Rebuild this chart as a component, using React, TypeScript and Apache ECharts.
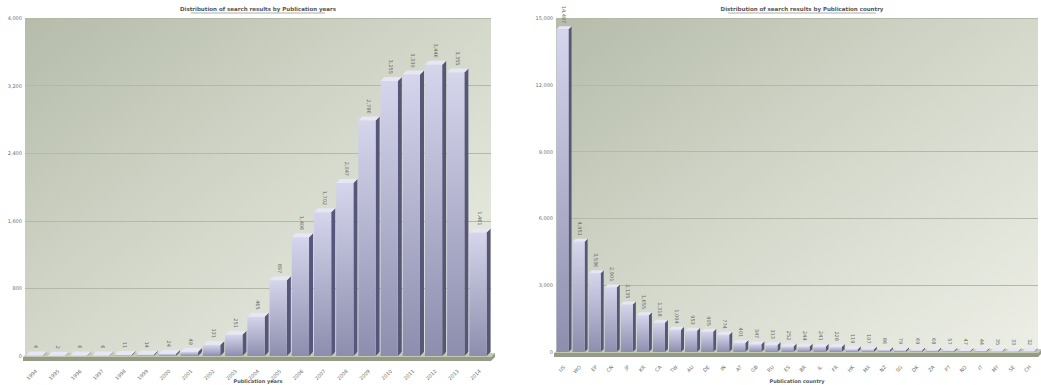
import React, { useEffect, useRef } from "react";
import * as echarts from "echarts";

// Publication years
const years = [
  "1994", "1995", "1996", "1997", "1998", "1999", "2000", "2001", "2002", "2003", "2004",
  "2005", "2006", "2007", "2008", "2009", "2010", "2011", "2012", "2013", "2014",
];
const yearCounts = [
  6, 2, 6, 6, 11, 14, 24, 49, 131, 251, 465, 897, 1406, 1702, 2047, 2786, 3255, 3330, 3446, 3355, 1461,
];
const yearAxisMax = 4000;
const yearAxisStep = 800;

// Publication countries
const countries = [
  "US", "WO", "EP", "CN", "JP", "KR", "CA", "TW", "AU", "DE", "IN", "AT", "GB", "RU", "ES",
  "BR", "IL", "FR", "HK", "MX", "NZ", "SG", "DK", "ZA", "PT", "NO", "IT", "MY", "SE", "CH",
];
const countryCounts = [
  14497, 4951, 3536, 2901, 2135, 1655, 1318, 1004, 953, 905, 774, 401, 347, 313, 252,
  244, 241, 228, 119, 107, 86, 79, 69, 68, 57, 47, 44, 35, 33, 32,
];
const countryAxisMax = 15000;
const countryAxisStep = 3000;

const titleYears = "Distribution of search results by Publication years";
const titleCountries = "Distribution of search results by Publication country";

const FONT = "DejaVu Sans";
const TEXT = "#6e6e6e";

const fmt = (v: number) => v.toLocaleString("en-US");

const plotBackground = new echarts.graphic.LinearGradient(0, 0, 1, 1, [
  { offset: 0, color: "#b5bcaa" },
  { offset: 0.5, color: "#d4d8cb" },
  { offset: 1, color: "#edefe6" },
]);

// 3D column: front face, right side, top face and a rotated value label
function column3d(depth: number, widthRatio: number) {
  return (params: any, api: any) => {
    const idx = api.value(0);
    const val = api.value(1);
    const top = api.coord([idx, val]);
    const base = api.coord([idx, 0]);
    const band = api.size([1, 0])[0];
    const w = band * widthRatio;
    const x0 = top[0] - (w + depth) / 2;
    const x1 = x0 + w;
    const yT = top[1];
    const yB = base[1];
    const h = Math.max(yB - yT, 0.01);
    return {
      type: "group",
      children: [
        {
          type: "polygon",
          shape: {
            points: [
              [x1, yT],
              [x1 + depth, yT - depth],
              [x1 + depth, yB - depth],
              [x1, yB],
            ],
          },
          style: { fill: "#55567a" },
        },
        {
          type: "rect",
          shape: { x: x0, y: yT, width: w, height: h },
          style: {
            fill: new echarts.graphic.LinearGradient(0, 0, 0, 1, [
              { offset: 0, color: "#d5d5ec" },
              { offset: 1, color: "#8d8eae" },
            ]),
          },
        },
        {
          type: "polygon",
          shape: {
            points: [
              [x0, yT],
              [x1, yT],
              [x1 + depth, yT - depth],
              [x0 + depth, yT - depth],
            ],
          },
          style: { fill: "#e6e6f4" },
        },
        {
          type: "text",
          x: x0 + w / 2 + depth / 2,
          y: yT - depth - 3,
          rotation: -Math.PI / 2,
          style: {
            text: fmt(val),
            fill: "#666",
            font: `5px "${FONT}"`,
            align: "right",
            verticalAlign: "middle",
          },
        },
      ],
    };
  };
}

// Floor slab under the columns
function floor3d(depth: number) {
  return (params: any) => {
    const cs = params.coordSys;
    const yB = cs.y + cs.height;
    const xL = cs.x - 2;
    const xR = cs.x + cs.width;
    return {
      type: "group",
      children: [
        {
          type: "polygon",
          shape: {
            points: [
              [xL, yB + 1],
              [xR, yB + 1],
              [xR + depth, yB - depth + 1],
              [xL + depth, yB - depth + 1],
            ],
          },
          style: { fill: "#c3c9b5" },
        },
        {
          type: "polygon",
          shape: {
            points: [
              [xL, yB + 1],
              [xR, yB + 1],
              [xR + depth, yB - depth + 1],
              [xR + depth, yB - depth + 5],
              [xR, yB + 5],
              [xL, yB + 5],
            ],
          },
          style: { fill: "#959c86" },
        },
      ],
    };
  };
}

const valueAxis = (gridIndex: number, max: number, step: number) => ({
  type: "value",
  gridIndex,
  min: 0,
  max,
  interval: step,
  axisLine: { show: false },
  axisTick: { show: false },
  axisLabel: {
    fontSize: 5,
    fontFamily: FONT,
    color: TEXT,
    margin: 3,
    formatter: (v: number) => fmt(v),
  },
  splitLine: { lineStyle: { color: "#b3b9a6", width: 1 } },
});

const categoryAxis = (gridIndex: number, data: string[], name: string, nameGap: number) => ({
  type: "category",
  gridIndex,
  data,
  boundaryGap: true,
  axisLine: { show: false },
  axisTick: { show: false },
  axisLabel: {
    show: true,
    fontSize: 5,
    fontFamily: FONT,
    color: TEXT,
    rotate: 45,
    margin: 14,
    interval: 0,
    hideOverlap: false,
  },
  name,
  nameLocation: "middle",
  nameGap,
  nameMoveOverlap: false,
  nameTextStyle: { fontSize: 5, fontFamily: FONT, fontWeight: "bold", color: "#555" },
});

function titleGraphic(text: string, cx: number, y: number, halfWidth: number) {
  return [
    {
      type: "text",
      x: cx,
      y,
      style: {
        text,
        fill: "#555",
        font: `bold 5.5px "${FONT}"`,
        align: "center",
        verticalAlign: "middle",
      },
    },
    {
      type: "line",
      shape: { x1: cx - halfWidth, y1: y + 4, x2: cx + halfWidth, y2: y + 4 },
      style: { stroke: "#777", lineWidth: 0.6 },
    },
  ];
}

export default function App() {
  const ref = useRef<HTMLDivElement>(null);

  useEffect(() => {
    if (!ref.current) return;
    const chart = echarts.init(ref.current, undefined, { renderer: "svg" });
    chart.setOption({
      animation: false,
      backgroundColor: "#ffffff",
      grid: [
        {
          left: 25,
          top: 18,
          width: 466,
          height: 338,
          show: true,
          backgroundColor: plotBackground,
          borderWidth: 0,
          containLabel: false,
          outerBoundsMode: "none",
        },
        {
          left: 556,
          top: 18,
          width: 482,
          height: 334,
          show: true,
          backgroundColor: plotBackground,
          borderWidth: 0,
          containLabel: false,
          outerBoundsMode: "none",
        },
      ],
      xAxis: [
        categoryAxis(0, years, "Publication years", 22),
        categoryAxis(1, countries, "Publication country", 26),
      ],
      yAxis: [
        valueAxis(0, yearAxisMax, yearAxisStep),
        valueAxis(1, countryAxisMax, countryAxisStep),
      ],
      graphic: [
        ...titleGraphic(titleYears, 258, 9, 67),
        ...titleGraphic(titleCountries, 802, 9, 74),
      ],
      series: [
        {
          type: "custom",
          xAxisIndex: 0,
          yAxisIndex: 0,
          renderItem: floor3d(4),
          data: [[0, 0]],
          clip: false,
          silent: true,
          z: 1,
        },
        {
          type: "custom",
          xAxisIndex: 0,
          yAxisIndex: 0,
          renderItem: column3d(4, 0.78),
          data: yearCounts.map((v, i) => [i, v]),
          clip: false,
          z: 2,
        },
        {
          type: "custom",
          xAxisIndex: 1,
          yAxisIndex: 1,
          renderItem: floor3d(4),
          data: [[0, 0]],
          clip: false,
          silent: true,
          z: 1,
        },
        {
          type: "custom",
          xAxisIndex: 1,
          yAxisIndex: 1,
          renderItem: column3d(3, 0.75),
          data: countryCounts.map((v, i) => [i, v]),
          clip: false,
          z: 2,
        },
      ],
    });
    return () => chart.dispose();
  }, []);

  return (
    <div
      ref={ref}
      style={{ position: "fixed", left: 0, top: 0, width: 1041, height: 385 }}
    />
  );
}
